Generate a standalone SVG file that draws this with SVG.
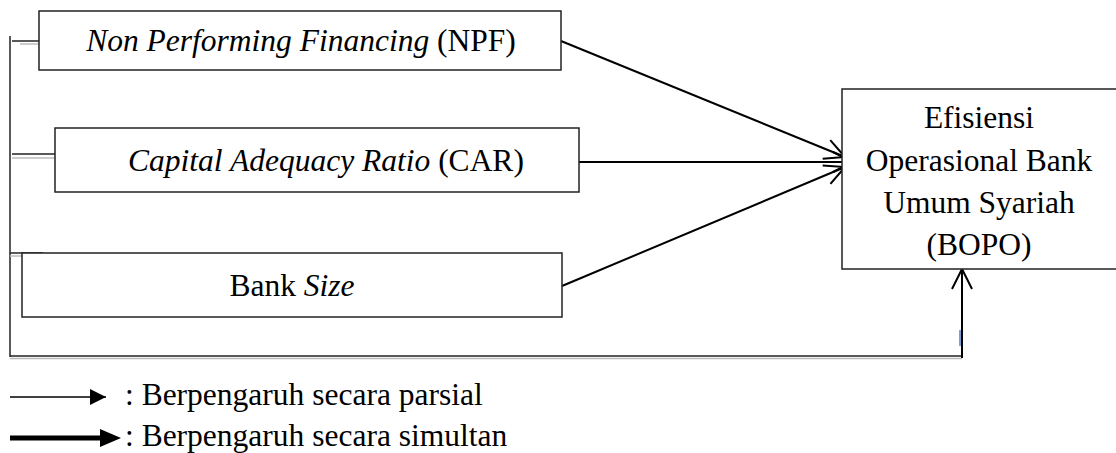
<svg xmlns="http://www.w3.org/2000/svg" width="1116" height="453" viewBox="0 0 1116 453">
<style>
.box{fill:#fff;stroke:#222;stroke-width:1.5}
.t{font-family:'Liberation Serif','Times New Roman',serif;font-size:31.5px;fill:#000}
.c{text-anchor:middle}
.i{font-style:italic}
.ln{stroke:#000;stroke-width:2;fill:none}
.gr{stroke:#bbb;stroke-width:1.5;fill:none}
.bk{stroke:#222;stroke-width:1.5;fill:none}
</style>
<defs>
<marker id="open" markerUnits="userSpaceOnUse" markerWidth="30" markerHeight="30" refX="22" refY="12" orient="auto">
<path d="M2,2 L22,12 L2,22" fill="none" stroke="#000" stroke-width="2"/>
</marker>
<marker id="fill1" markerUnits="userSpaceOnUse" markerWidth="20" markerHeight="20" refX="16" refY="8" orient="auto">
<path d="M0,0 L16,8 L0,16 Z" fill="#000"/>
</marker>
</defs>
<g id="connectors">
<line class="bk" x1="10" y1="36" x2="10" y2="357"/>
<line class="bk" x1="12" y1="41" x2="39" y2="41"/>
<line class="gr" x1="20" y1="44" x2="39" y2="44"/>
<line class="bk" x1="12" y1="154" x2="55" y2="154"/>
<line class="gr" x1="12" y1="158" x2="55" y2="158"/>
<line class="bk" x1="10" y1="253" x2="43" y2="253"/>
<line class="gr" x1="10" y1="256" x2="43" y2="256"/>
<line class="bk" x1="10" y1="356" x2="962" y2="356"/>
<line class="gr" x1="10" y1="358.5" x2="962" y2="358.5"/>
<line class="ln" x1="962" y1="358" x2="962" y2="269" marker-end="url(#open)"/>
<line x1="960" y1="330" x2="960" y2="346" stroke="#4a7fd0" stroke-width="1.5"/>
<line class="ln" x1="561" y1="41" x2="845" y2="157" marker-end="url(#open)"/>
<line class="ln" x1="579" y1="162" x2="853" y2="162" marker-end="url(#open)"/>
<line class="ln" x1="562" y1="286" x2="845" y2="167" marker-end="url(#open)"/>
</g>
<g id="npf">
<rect class="box" x="39" y="11" width="522" height="59"/>
<text class="t c" x="301" y="51"><tspan class="i">Non Performing Financing</tspan> (NPF)</text>
</g>
<g id="car">
<rect class="box" x="55" y="128" width="524" height="64"/>
<text class="t c" x="326" y="171"><tspan class="i">Capital Adequacy Ratio</tspan> (CAR)</text>
</g>
<g id="size">
<rect class="box" x="22" y="253" width="540" height="64"/>
<text class="t c" x="292" y="296">Bank <tspan class="i">Size</tspan></text>
</g>
<g id="bopo">
<rect class="box" x="842" y="89" width="280" height="180"/>
<text class="t c" x="979" y="128">Efisiensi</text>
<text class="t c" x="979" y="171">Operasional Bank</text>
<text class="t c" x="979" y="213">Umum Syariah</text>
<text class="t c" x="979" y="255">(BOPO)</text>
</g>
<g id="legend">
<line x1="10" y1="397" x2="106" y2="397" stroke="#000" stroke-width="1.5" marker-end="url(#fill1)"/>
<line x1="10" y1="438" x2="102" y2="438" stroke="#000" stroke-width="5"/>
<path d="M100,429 L121,438 L100,447 Z" fill="#000"/>
<text class="t" x="125" y="405">: Berpengaruh secara parsial</text>
<text class="t" x="125" y="446">: Berpengaruh secara simultan</text>
</g>
</svg>
